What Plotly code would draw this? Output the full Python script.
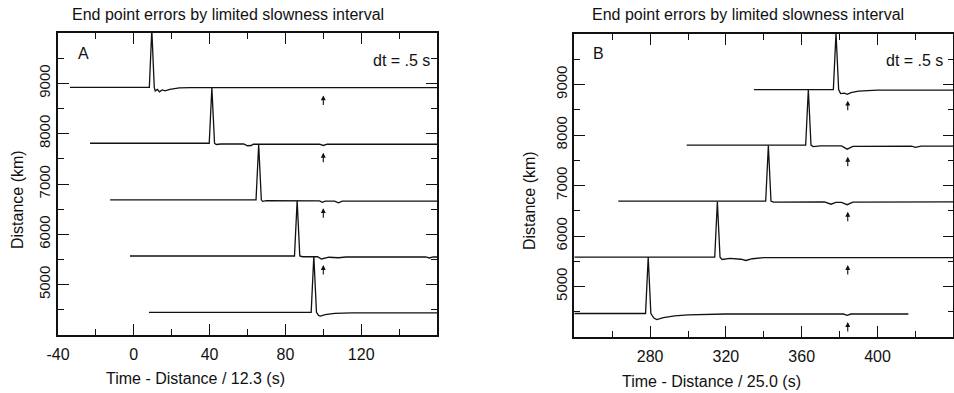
import plotly.graph_objects as go

W, H = 954, 393

# ---------------- data ----------------
# Panel A : reduction velocity 12.3 km/s
a_base = [8920, 7810, 6685, 5570, 4450]          # trace baseline distance (km)
a_t = [
    [-33.7, 8.2, 9.5, 10.8, 11.3, 12.5, 13.5, 15.0, 16.5, 19.0, 24.0, 30.0, 160.0],
    [-23.1, 39.8, 41.2, 42.6, 43.5, 46.0, 58.0, 60.0, 62.0, 63.0, 98.0, 100.0, 102.0, 160.0],
    [-12.5, 64.5, 65.9, 67.3, 68.0, 70.0, 98.0, 99.5, 101.0, 106.0, 108.0, 110.0, 160.0],
    [-2.0, 84.8, 86.2, 87.6, 89.0, 97.0, 99.0, 103.0, 108.0, 112.0, 154.0, 156.0, 158.0, 160.0],
    [8.0, 93.6, 95.0, 96.4, 97.5, 98.5, 101.0, 106.0, 115.0, 160.0],
]
a_amp = [
    [0, 0, 1150, 0, -70, -40, -90, -50, -70, -40, -10, -5, -5],
    [0, 0, 1100, 0, -25, -15, -15, -50, -45, -20, -20, -45, -20, -20],
    [0, 0, 1100, 0, -30, -15, -20, -50, -25, -25, -60, -25, -25],
    [0, 0, 1100, 0, -15, -15, -60, -25, -35, -20, -20, -40, -20, -20],
    [0, 0, 1120, 0, -60, -75, -45, -20, -10, -10],
]
a_arrow_t = [100, 100, 100, 100]
a_arrow_d = [8760, 7620, 6520, 5390]
a_xticks = [-40, 0, 40, 80, 120]
a_xlabels = ["-40", "0", "40", "80", "120"]

# Panel B : reduction velocity 25.0 km/s
b_base = [8900, 7800, 6690, 5580, 4465]
b_t = [
    [334.8, 376.7, 378.1, 379.5, 380.5, 382.5, 384.0, 386.0, 390.0, 400.0, 440.0],
    [299.3, 362.1, 363.5, 364.9, 366.0, 370.0, 381.0, 384.0, 387.0, 418.0, 420.0, 423.0, 440.0],
    [263.2, 341.0, 342.4, 343.8, 345.0, 372.0, 375.5, 378.0, 381.0, 384.0, 387.0, 440.0],
    [240.0, 314.1, 315.5, 316.9, 318.0, 322.0, 328.0, 330.5, 334.0, 340.0, 440.0],
    [240.0, 277.6, 279.0, 280.4, 282.0, 283.5, 287.0, 293.0, 300.0, 320.0, 382.0, 384.0, 386.0, 416.3],
]
b_amp = [
    [0, 0, 1120, 0, -80, -70, -95, -60, -30, -10, -10],
    [0, 0, 1100, 0, -30, -15, -15, -80, -25, -20, -45, -20, -20],
    [0, 0, 1100, 0, -20, -15, -60, -25, -25, -70, -20, -15],
    [0, 0, 1100, 0, -45, -25, -40, -65, -30, -10, -10],
    [0, 0, 1120, 0, -90, -120, -80, -45, -25, -10, -10, -35, -10, -10],
]
b_arrow_t = [384.3, 384.3, 384.3, 384.3, 384.3]
b_arrow_d = [8680, 7570, 6480, 5425, 4295]
b_xticks = [280, 320, 360, 400]
b_xlabels = ["280", "320", "360", "400"]

y_ticks = [5000, 6000, 7000, 8000, 9000]
y_labels = ["5000", "6000", "7000", "8000", "9000"]

title_text = "End point errors by limited slowness interval"

# ---------------- figure ----------------
FONT = "Liberation Sans, Arial, Helvetica, sans-serif"
INK = "#111111"

fig = go.Figure()

for base, ts, amps in zip(a_base, a_t, a_amp):
    fig.add_trace(go.Scatter(x=ts, y=[base + v for v in amps], mode="lines",
                             line=dict(color=INK, width=1.3), xaxis="x", yaxis="y",
                             showlegend=False, hoverinfo="skip"))
for base, ts, amps in zip(b_base, b_t, b_amp):
    fig.add_trace(go.Scatter(x=ts, y=[base + v for v in amps], mode="lines",
                             line=dict(color=INK, width=1.3), xaxis="x2", yaxis="y2",
                             showlegend=False, hoverinfo="skip"))

def px_x(p):
    return p / W

def px_y(p):
    return 1 - p / H

def xaxis_style(domain, rng, ticks, labels, anchor):
    return dict(domain=domain, range=rng, anchor=anchor, automargin=False,
                tickmode="array", tickvals=ticks, ticktext=labels,
                ticks="inside", ticklen=11, tickwidth=1.2, tickcolor=INK,
                ticklabelstandoff=4,
                minor=dict(dtick=20, tick0=0, ticks="inside", ticklen=6,
                           tickwidth=1.2, tickcolor=INK, showgrid=False),
                showline=True, linecolor=INK, linewidth=1.5, mirror="ticks",
                showgrid=False, zeroline=False,
                tickfont=dict(family=FONT, size=16, color=INK))

def yaxis_style(domain, anchor):
    return dict(domain=domain, range=[4000, 10000], anchor=anchor, automargin=False,
                tickmode="array", tickvals=y_ticks, ticktext=y_labels, tickangle=-90,
                ticks="inside", ticklen=11, tickwidth=1.2, tickcolor=INK,
                minor=dict(dtick=500, tick0=4000, ticks="inside", ticklen=6,
                           tickwidth=1.2, tickcolor=INK, showgrid=False),
                showline=True, linecolor=INK, linewidth=1.5, mirror="ticks",
                showgrid=False, zeroline=False,
                tickfont=dict(family=FONT, size=15, color=INK))

xa = xaxis_style([px_x(58), px_x(437)], [-40, 160], a_xticks, a_xlabels, "y")
xb = xaxis_style([px_x(574.3), px_x(953.3)], [240, 440], b_xticks, b_xlabels, "y2")
ya = yaxis_style([px_y(335), px_y(33)], "x")
yb = yaxis_style([px_y(337), px_y(34)], "x2")

annotations = []

def text(x, y, s, size=16, angle=0):
    annotations.append(dict(x=px_x(x), y=px_y(y), xref="paper", yref="paper",
                            text=s, showarrow=False, xanchor="center", yanchor="middle",
                            textangle=angle, font=dict(family=FONT, size=size, color=INK)))

text(228, 15, title_text)
text(748, 15, title_text)
text(83, 53, "A")
text(598, 53, "B")
text(401, 60, "dt = .5 s")
text(914, 60, "dt = .5 s")
text(195, 378, "Time - Distance / 12.3 (s)")
text(711, 381, "Time - Distance / 25.0 (s)")
text(17, 200, "Distance (km)", angle=-90)
text(530, 201, "Distance (km)", angle=-90)

for t, d in zip(a_arrow_t, a_arrow_d):
    annotations.append(dict(x=t, y=d, xref="x", yref="y", ax=0, ay=11, text="",
                            showarrow=True, arrowhead=2, arrowsize=0.9, arrowwidth=1.1,
                            arrowcolor=INK, standoff=0, startstandoff=0))
for t, d in zip(b_arrow_t, b_arrow_d):
    annotations.append(dict(x=t, y=d, xref="x2", yref="y2", ax=0, ay=11, text="",
                            showarrow=True, arrowhead=2, arrowsize=0.9, arrowwidth=1.1,
                            arrowcolor=INK, standoff=0, startstandoff=0))

fig.update_layout(
    template="none",
    width=W, height=H,
    margin=dict(l=0, r=0, t=0, b=0, pad=0),
    paper_bgcolor="white", plot_bgcolor="white",
    xaxis=xa, yaxis=ya, xaxis2=xb, yaxis2=yb,
    annotations=annotations,
    font=dict(family=FONT, color=INK),
    showlegend=False,
)

fig.write_html("out.html")
